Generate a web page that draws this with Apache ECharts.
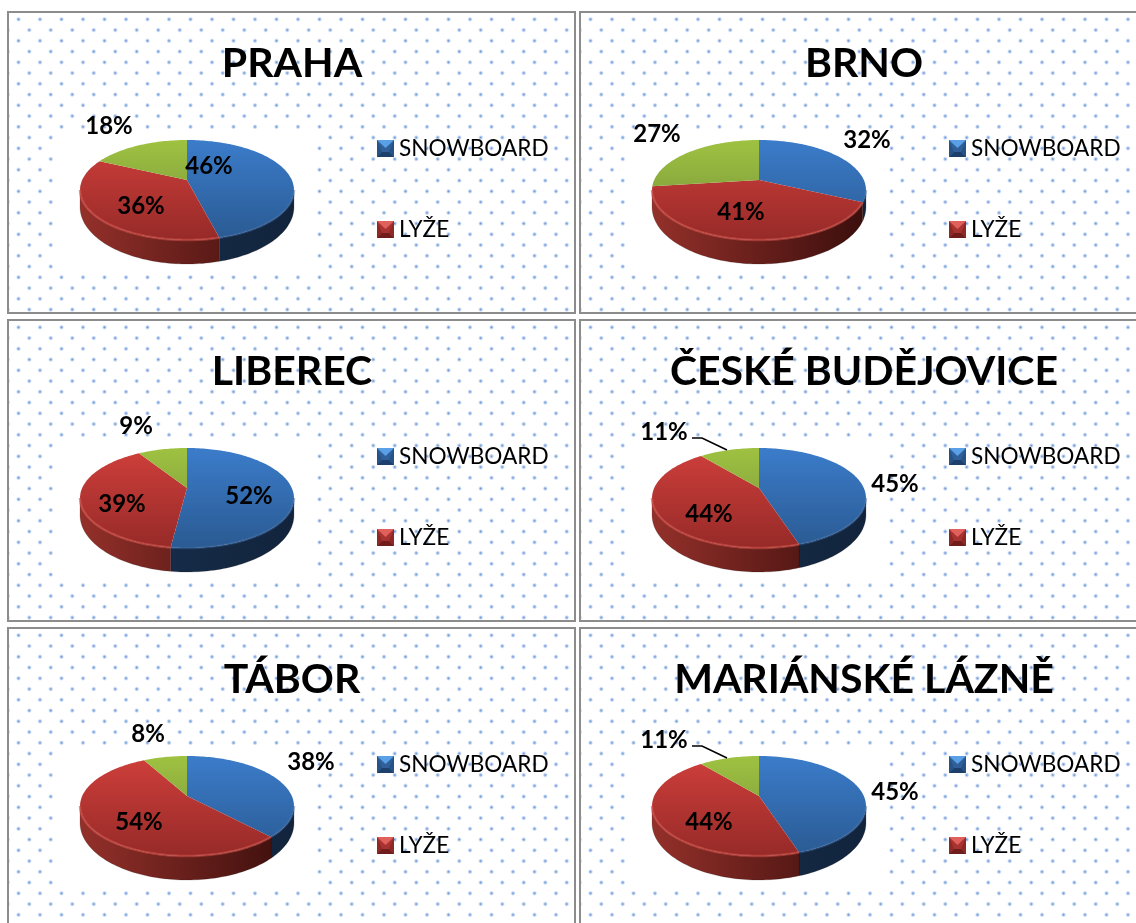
<!DOCTYPE html>
<html><head><meta charset="utf-8"><style>html,body{margin:0;padding:0;background:#fff}#c{width:1136px;height:923px}</style>
<script src="https://cdn.jsdelivr.net/npm/echarts@6/dist/echarts.min.js"></script></head>
<body><div id="c"></div><script>
// ---- data ----
const cities = ['PRAHA','BRNO','LIBEREC','ČESKÉ BUDĚJOVICE','TÁBOR','MARIÁNSKÉ LÁZNĚ'];
const snowboard = [46,32,52,45,38,45];
const lyze = [36,41,39,44,54,44];
const ostatni = [18,27,9,11,8,11];
const seriesNames = ['SNOWBOARD','LYŽE','OSTATNÍ'];
// ---- layout ----
const colX = [8,580], rowY = [12,320,628];
const panelW = 567, panelH = 301;
const apexDX = 179, apexDY = 168;
const labelPos = [ // label centre relative to the pie apex, per city: snowboard, lyze, ostatni
 [[22,-14],[-46,26],[-78,-54]],
 [[108,-40],[-18,32],[-102,-46]],
 [[62,8],[-65,16],[-51,-62]],
 [[136,-4],[-50,26],[-95,-56]],
 [[124,-34],[-48,26],[-39,-62]],
 [[136,-4],[-50,26],[-95,-56]]
];
const leaders = {3:[[-67,-50],[-57,-50],[-32,-38]],5:[[-67,-50],[-57,-50],[-32,-38]]};
const palette = [
 {top:['#3b7cca','#2a5a92'],side:['#17304f','#12243c'],rim:'rgba(70,115,175,0.4)'},
 {top:['#cf3f3b','#962a28'],side:['#94302a','#3a0e0c'],rim:'rgba(215,85,78,0.55)'},
 {top:['#9fc241','#72903a'],side:['#6a8430','#4f6424'],rim:'rgba(180,210,110,0.5)'}
];
const values = [snowboard,lyze,ostatni];
const LG = (x,y,x2,y2,a,b)=>new echarts.graphic.LinearGradient(x,y,x2,y2,[{offset:0,color:a},{offset:1,color:b}],true);

function project(t,cx,ay){
  const u=Math.sin(t),v=Math.cos(t),d=1+0.2*v;
  return [cx+104.8*u/d, ay+10+(-50*v-10)/d];
}
function lower(p,ay){ return [p[0], p[1]+17+7*Math.max(0,(p[1]-ay-10)/50)]; }
function arc(a,b,cx,ay){
  const pts=[],n=Math.max(2,Math.ceil((b-a)/(Math.PI/120)));
  for(let i=0;i<=n;i++) pts.push(project(a+(b-a)*i/n,cx,ay));
  return pts;
}
const frontA=101.5*Math.PI/180, frontB=258.5*Math.PI/180;

function renderSlice(s){
  return function(params,api){
    const i=api.value(0), val=api.value(1);
    const cx=colX[i%2]+apexDX, ay=rowY[Math.floor(i/2)]+apexDY;
    let before=0; for(let k=0;k<s;k++) before+=values[k][i];
    const total=snowboard[i]+lyze[i]+ostatni[i];
    const a=before/total*2*Math.PI, b=(before+val)/total*2*Math.PI;
    const c=palette[s], kids=[];
    const fa=Math.max(a,frontA), fb=Math.min(b,frontB);
    if(fb>fa){
      const up=arc(fa,fb,cx,ay), lo=up.map(p=>lower(p,ay)).reverse();
      kids.push({type:'polygon',shape:{points:up.concat(lo)},
        style:{fill:LG(cx-107,0,cx+107,0,c.side[0],c.side[1]),stroke:'rgba(20,10,10,0.3)',lineWidth:0.6}});
    }
    const top=[[cx,ay]].concat(arc(a,b,cx,ay));
    kids.push({type:'polygon',shape:{points:top},style:{fill:LG(0,ay-40,0,ay+60,c.top[0],c.top[1])}});
    if(fb>fa){
      kids.push({type:'polyline',shape:{points:arc(fa,fb,cx,ay)},style:{fill:null,stroke:c.rim,lineWidth:2.5},z2:5});
    }
    const lp=labelPos[i][s];
    kids.push({type:'text',z2:100,style:{text:val+'%',x:cx+lp[0],y:ay+lp[1],align:'center',verticalAlign:'middle',
      fill:'#000',font:'bold 24px Lato, sans-serif'}});
    if(s===2 && leaders[i]){
      kids.push({type:'polyline',z2:100,shape:{points:leaders[i].map(p=>[cx+p[0],ay+p[1]])},style:{fill:null,stroke:'#000',lineWidth:1.5}});
    }
    return {type:'group',children:kids};
  };
}
// dotted panel texture
const tex=document.createElement('canvas'); tex.width=43; tex.height=43;
(function(){const g=tex.getContext('2d');
  for(let r=0;r<4;r++) for(let k=-1;k<3;k++) {
    const x=10.5+k*21.5+(r%2?10.75:0), y=7.3+r*10.75;
    const gr=g.createRadialGradient(x,y,0,x,y,2.8);
    gr.addColorStop(0,'rgba(85,135,205,0.95)');gr.addColorStop(.45,'rgba(125,165,225,.6)');gr.addColorStop(1,'rgba(200,220,245,0)');
    g.fillStyle=gr;g.fillRect(x-3,y-3,6,6);
  }})();
function bevelIcon(main,light,dark,side){
  const cv=document.createElement('canvas');cv.width=cv.height=17;const g=cv.getContext('2d');
  const tri=(pts,col)=>{g.fillStyle=col;g.beginPath();pts.forEach((p,i)=>i?g.lineTo(p[0],p[1]):g.moveTo(p[0],p[1]));g.closePath();g.fill();};
  g.fillStyle=main;g.fillRect(0,0,17,17);
  tri([[0,0],[17,0],[8.5,8]],light);
  tri([[0,17],[17,17],[12,12],[5,12]],dark);
  tri([[0,0],[5,12],[0,17]],side);tri([[17,0],[12,12],[17,17]],side);
  return 'image://'+cv.toDataURL();
}
const iconB=bevelIcon('#2f6099','#5aa0e6','#1d3f6b','#275288');
const iconR=bevelIcon('#a83230','#e0605c','#6e1d1b','#8c2927');

const graphic=[],title=[],legend=[];
cities.forEach((name,i)=>{
  const x=colX[i%2],y=rowY[Math.floor(i/2)];
  graphic.push({type:'rect',x:x,y:y,shape:{x:0,y:0,width:panelW,height:panelH},
    style:{fill:{image:tex,repeat:'repeat'},stroke:'#8c8c8c',lineWidth:2}});
  graphic.push({type:'rect',shape:{x:x+apexDX-129,y:y+apexDY-45,width:254,height:137},style:{fill:'#fff'}});
  title.push({text:name,left:x+279,top:y+26,textAlign:'center',textStyle:{fontFamily:'Lato',fontWeight:'bold',fontSize:41,color:'#000'}});
  legend.push({left:x+364,top:y+120,orient:'vertical',itemWidth:17,itemHeight:17,itemGap:58,selectedMode:false,
    data:[{name:'SNOWBOARD',icon:iconB},{name:'LYŽE',icon:iconR}],
    textStyle:{fontFamily:'Lato',fontSize:22.6,color:'#000',padding:0}});
});
const chart=echarts.init(document.getElementById('c'),null,{renderer:'canvas'});
chart.setOption({
  animation:false,backgroundColor:'#fff',title,legend,graphic,
  series:seriesNames.map((n,s)=>({type:'custom',name:n,coordinateSystem:'none',silent:true,
    itemStyle:{color:palette[s].top[0]},
    data:values[s].map((v,i)=>[i,v]),renderItem:renderSlice(s)}))
});
</script></body></html>
